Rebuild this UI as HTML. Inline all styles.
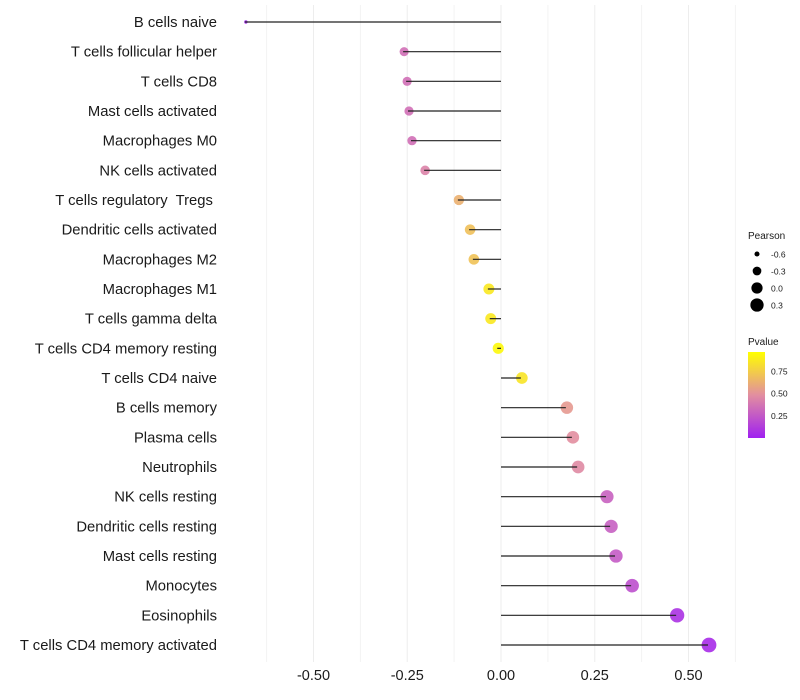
<!DOCTYPE html>
<html><head><meta charset="utf-8"><style>
body{margin:0;background:#fff;}
svg{display:block;font-family:"Liberation Sans",sans-serif;}
</style></head><body>
<svg id="chart" width="800" height="700">
<g id="grid"></g>
<g id="marks"></g>
<g id="ylabels"></g>
<g id="xlabels"></g>
<g id="legend"></g>
</svg>
<script>
const categories=["B cells naive","T cells follicular helper","T cells CD8","Mast cells activated","Macrophages M0","NK cells activated","T cells regulatory  Tregs ","Dendritic cells activated","Macrophages M2","Macrophages M1","T cells gamma delta","T cells CD4 memory resting","T cells CD4 naive","B cells memory","Plasma cells","Neutrophils","NK cells resting","Dendritic cells resting","Mast cells resting","Monocytes","Eosinophils","T cells CD4 memory activated"];
const pearson=[-0.683,-0.261,-0.253,-0.248,-0.24,-0.205,-0.115,-0.085,-0.075,-0.035,-0.03,-0.01,0.053,0.173,0.189,0.203,0.28,0.291,0.304,0.347,0.467,0.552];
const pvalue=[0.0,0.36,0.36,0.36,0.36,0.45,0.65,0.72,0.73,0.9,0.9,0.97,0.88,0.55,0.5,0.48,0.3,0.29,0.27,0.22,0.08,0.05];
const xTicks=[-0.5,-0.25,0,0.25,0.5];
const xTickLabels=["-0.50","-0.25","0.00","0.25","0.50"];
const gridVals=[-0.625,-0.5,-0.375,-0.25,-0.125,0,0.125,0.25,0.375,0.5,0.625];
const legendSizes=[-0.6,-0.3,0.0,0.3];
const legendSizeLabels=["-0.6","-0.3","0.0","0.3"];
const legendColorTicks=[0.25,0.5,0.75];
const legendColorLabels=["0.25","0.50","0.75"];

const NS="http://www.w3.org/2000/svg";
const x=v=>501+v*375;
const y=i=>22+i*(623/21);
const rad=v=>Math.sqrt(Math.max(2,3+42*(v+0.68)));
function col(p){
  const s=[[0,[160,32,240]],[0.5,[226,142,160]],[1,[255,255,0]]];
  let a=s[0],b=s[1]; if(p>0.5){a=s[1];b=s[2];}
  const t=(p-a[0])/(b[0]-a[0]);
  const c=a[1].map((v,k)=>Math.round(v+(b[1][k]-v)*t));
  return `rgb(${c.join(",")})`;
}
function mk(tag,attrs,parent){const e=document.createElementNS(NS,tag);for(const k in attrs)e.setAttribute(k,attrs[k]);parent.appendChild(e);return e;}
const grid=document.getElementById("grid"),marks=document.getElementById("marks"),yl=document.getElementById("ylabels"),xl=document.getElementById("xlabels"),lg=document.getElementById("legend");
gridVals.forEach((v,i)=>{
  const l=mk("line",{x1:x(v),x2:x(v),y1:5,y2:662,stroke:i%2?"#ededed":"#f3f3f3","stroke-width":1},grid);
  
  
});
categories.forEach((c,i)=>{
  const t=mk("text",{x:217,y:y(i)+5,"text-anchor":"end","font-size":14.8,fill:"#1a1a1a","xml:space":"preserve"},yl);
  t.style.whiteSpace="pre";
  t.textContent=c;
  
  
  const d=mk("circle",{cx:x(pearson[i])+1,cy:y(i),r:rad(pearson[i]),fill:col(pvalue[i]),opacity:0.9},marks);
  
  
  const ln=mk("line",{x1:x(0),x2:x(pearson[i]),y1:y(i),y2:y(i),stroke:"#222","stroke-width":1.2},marks);
  
  
});
xTicks.forEach((v,i)=>{
  const t=mk("text",{x:x(v),y:680,"text-anchor":"middle","font-size":14.5,fill:"#1a1a1a"},xl);
  t.textContent=xTickLabels[i];
  
  
});
let tt=mk("text",{x:748,y:239,"font-size":10,fill:"#1a1a1a"},lg);tt.textContent="Pearson";


legendSizes.forEach((v,i)=>{
  const cy=254+i*17;
  const c=mk("circle",{cx:757,cy:cy,r:rad(v),fill:"#000"},lg);
  
  
  const t=mk("text",{x:771,y:cy+3.5,"font-size":8.5,fill:"#1a1a1a"},lg);t.textContent=legendSizeLabels[i];
  
  
});
tt=mk("text",{x:748,y:345,"font-size":10,fill:"#1a1a1a"},lg);tt.textContent="Pvalue";


const defs=mk("defs",{},lg);
const gr=mk("linearGradient",{id:"pg",x1:0,y1:1,x2:0,y2:0},defs);
[0,0.25,0.5,0.75,1].forEach(p=>mk("stop",{offset:p,"stop-color":col(p)},gr));
const bar=mk("rect",{x:748,y:352,width:17,height:86,fill:"url(#pg)"},lg);


const cy0=438,ch=86,pmin=0.0,pmax=0.97;
legendColorTicks.forEach((p,i)=>{
  const yy=cy0-(p-pmin)/(pmax-pmin)*ch;
  const t=mk("text",{x:771,y:yy+3,"font-size":8.5,fill:"#1a1a1a"},lg);t.textContent=legendColorLabels[i];
  
  
});
</script>
</body></html>
